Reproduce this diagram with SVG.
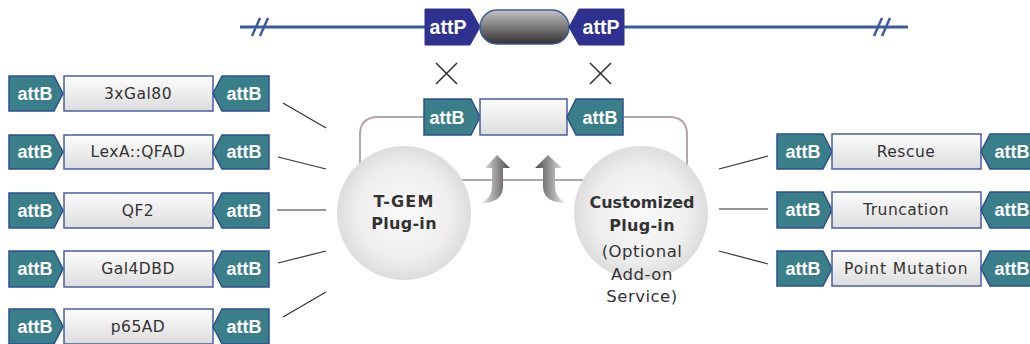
<svg xmlns="http://www.w3.org/2000/svg" width="1030" height="344" viewBox="0 0 1030 344">
<defs>
<linearGradient id="boxg" x1="0" y1="0" x2="0" y2="1"><stop offset="0" stop-color="#fdfdfd"/><stop offset="1" stop-color="#dcdcdc"/></linearGradient>
<linearGradient id="capg" x1="0" y1="0" x2="0" y2="1"><stop offset="0" stop-color="#c4c4c4"/><stop offset="1" stop-color="#333030"/></linearGradient>
<radialGradient id="circg" cx="0.5" cy="0.5" r="0.5"><stop offset="0" stop-color="#fafafa"/><stop offset="0.7" stop-color="#eeeeee"/><stop offset="1" stop-color="#dddddd"/></radialGradient>
<linearGradient id="arrL" x1="0" y1="0" x2="1" y2="0"><stop offset="0" stop-color="#eeeeee"/><stop offset="1" stop-color="#4a4a4a"/></linearGradient>
<linearGradient id="arrR" x1="0" y1="0" x2="1" y2="0"><stop offset="0" stop-color="#4a4a4a"/><stop offset="1" stop-color="#eeeeee"/></linearGradient>
<style>
.attP{fill:#2e3190;stroke:#2e3190;stroke-width:1}
.attB{fill:#3a7e8a;stroke:#2d4f8e;stroke-width:1.5}
.box{fill:url(#boxg);stroke:#4a5da3;stroke-width:1.5}
.at{font-family:"Liberation Sans",Arial,sans-serif;font-weight:bold;font-size:18px;fill:#fff;text-anchor:middle}
.ap{font-family:"Liberation Sans",Arial,sans-serif;font-weight:bold;font-size:19.5px;fill:#fff;text-anchor:middle}
.lbl{font-family:"DejaVu Sans",sans-serif;font-size:15.5px;fill:#333;text-anchor:middle;letter-spacing:0.5px}
.ct{font-family:"DejaVu Sans",sans-serif;font-size:16px;font-weight:bold;fill:#333;text-anchor:middle}
.cn{font-family:"DejaVu Sans",sans-serif;font-size:16.5px;fill:#333;text-anchor:middle;letter-spacing:0.5px}
.loop{fill:none;stroke:#b5a3ad;stroke-width:2}
.conn{stroke:#333;stroke-width:1.2;fill:none}
.circ{fill:url(#circg)}
</style>
</defs>

<g id="chromosome">
<line x1="240" y1="27" x2="908" y2="27" stroke="#3d5a9c" stroke-width="3"/>
<line x1="252" y1="36" x2="260" y2="18" stroke="#3d5a9c" stroke-width="2.5"/>
<line x1="260" y1="36" x2="268" y2="18" stroke="#3d5a9c" stroke-width="2.5"/>
<line x1="874" y1="36" x2="882" y2="18" stroke="#3d5a9c" stroke-width="2.5"/>
<line x1="882" y1="36" x2="890" y2="18" stroke="#3d5a9c" stroke-width="2.5"/>
</g>
<g id="attP-left">
<polygon class="attP" points="425,9 470,9 480,27 470,45 425,45"/>
<text class="ap" x="448" y="34">attP</text>
</g>
<g id="landing-site">
<rect x="480" y="10" width="89" height="34" rx="17" fill="url(#capg)" stroke="#3d5a9c" stroke-width="1.5"/>
</g>
<g id="attP-right">
<polygon class="attP" points="569,27 579,9 624,9 624,45 579,45"/>
<text class="ap" x="601" y="34">attP</text>
</g>

<g id="cross-marks" stroke="#333" stroke-width="1.6">
<line x1="436" y1="63" x2="457" y2="84"/><line x1="457" y1="63" x2="436" y2="84"/>
<line x1="590" y1="63" x2="611" y2="84"/><line x1="611" y1="63" x2="590" y2="84"/>
</g>

<g id="connectors">
<path class="loop" d="M424 117 L378 117 Q360 117 360 135 L360 170"/>
<path class="loop" d="M624 117 L669 117 Q687 117 687 135 L687 170"/>
<line class="loop" x1="450" y1="180" x2="600" y2="180"/>
<line class="conn" x1="283" y1="103" x2="326" y2="128"/>
<line class="conn" x1="278" y1="157" x2="326" y2="169"/>
<line class="conn" x1="277" y1="210" x2="326" y2="210"/>
<line class="conn" x1="278" y1="263" x2="326" y2="251"/>
<line class="conn" x1="283" y1="317" x2="326" y2="292"/>
<line class="conn" x1="719" y1="169" x2="768" y2="156"/>
<line class="conn" x1="719" y1="209" x2="768" y2="209"/>
<line class="conn" x1="719" y1="251" x2="768" y2="264"/>
</g>

<g id="plasmid">
<polygon class="attB" points="424,99 471,99 480,117 471,135 424,135"/>
<text class="at" x="447" y="124">attB</text>
<rect class="box" x="480" y="99" width="87" height="36"/>
<polygon class="attB" points="567,117 576,99 623,99 623,135 576,135"/>
<text class="at" x="600" y="124">attB</text>
</g>

<g id="arrow-left">
<path d="M481 203 Q492 198 492 186 L492 168 L485 168 L497 155 L510 168 L503 168 L503 186 Q503 203 481 203 Z" fill="url(#arrL)"/>
</g>
<g id="arrow-right">
<path d="M566 203 Q555 198 555 186 L555 168 L562 168 L548 155 L535 168 L543 168 L543 186 Q543 203 566 203 Z" fill="url(#arrR)"/>
</g>

<g id="tgem">
<circle class="circ" cx="404" cy="213" r="67"/>
<text class="ct" x="404" y="207" style="letter-spacing:1.2px">T-GEM</text>
<text class="ct" x="404" y="229" style="letter-spacing:0.3px">Plug-in</text>
</g>
<g id="custom">
<circle class="circ" cx="641" cy="213" r="67"/>
<text class="ct" x="642" y="208">Customized</text>
<text class="ct" x="642" y="231" style="letter-spacing:0.3px">Plug-in</text>
<text class="cn" x="642" y="257">(Optional</text>
<text class="cn" x="642" y="280">Add-on</text>
<text class="cn" x="642" y="302">Service)</text>
</g>

<g id="c-3xGal80">
<polygon class="attB" points="9,76 54,76 63,93.5 54,111 9,111"/>
<text class="at" x="35" y="100">attB</text>
<rect class="box" x="64" y="76" width="149" height="35"/>
<text class="lbl" x="138" y="99">3xGal80</text>
<polygon class="attB" points="213,93.5 222,76 269,76 269,111 222,111"/>
<text class="at" x="244" y="100">attB</text>
</g>
<g id="c-LexA">
<polygon class="attB" points="9,135 54,135 63,152 54,169 9,169"/>
<text class="at" x="35" y="158">attB</text>
<rect class="box" x="64" y="135" width="149" height="34"/>
<text class="lbl" x="138" y="157">LexA::QFAD</text>
<polygon class="attB" points="213,152 222,135 269,135 269,169 222,169"/>
<text class="at" x="244" y="158">attB</text>
</g>
<g id="c-QF2">
<polygon class="attB" points="9,193 54,193 63,210.5 54,228 9,228"/>
<text class="at" x="35" y="217">attB</text>
<rect class="box" x="64" y="193" width="149" height="35"/>
<text class="lbl" x="138" y="216">QF2</text>
<polygon class="attB" points="213,210.5 222,193 269,193 269,228 222,228"/>
<text class="at" x="244" y="217">attB</text>
</g>
<g id="c-Gal4DBD">
<polygon class="attB" points="9,251 54,251 63,269 54,287 9,287"/>
<text class="at" x="35" y="275">attB</text>
<rect class="box" x="64" y="251" width="149" height="36"/>
<text class="lbl" x="138" y="274">Gal4DBD</text>
<polygon class="attB" points="213,269 222,251 269,251 269,287 222,287"/>
<text class="at" x="244" y="275">attB</text>
</g>
<g id="c-p65AD">
<polygon class="attB" points="9,309 54,309 63,326.5 54,344 9,344"/>
<text class="at" x="35" y="333">attB</text>
<rect class="box" x="64" y="309" width="149" height="35"/>
<text class="lbl" x="138" y="332">p65AD</text>
<polygon class="attB" points="213,326.5 222,309 269,309 269,344 222,344"/>
<text class="at" x="244" y="333">attB</text>
</g>

<g id="c-Rescue">
<polygon class="attB" points="777,134 823,134 832,151.5 823,169 777,169"/>
<text class="at" x="803" y="158">attB</text>
<rect class="box" x="832" y="134" width="149" height="35"/>
<text class="lbl" x="906" y="157">Rescue</text>
<polygon class="attB" points="981,151.5 990,134 1037,134 1037,169 990,169"/>
<text class="at" x="1012" y="158">attB</text>
</g>
<g id="c-Truncation">
<polygon class="attB" points="777,192 823,192 832,210 823,228 777,228"/>
<text class="at" x="803" y="216">attB</text>
<rect class="box" x="832" y="192" width="149" height="36"/>
<text class="lbl" x="906" y="215">Truncation</text>
<polygon class="attB" points="981,210 990,192 1037,192 1037,228 990,228"/>
<text class="at" x="1012" y="216">attB</text>
</g>
<g id="c-PointMutation">
<polygon class="attB" points="777,251 823,251 832,268.5 823,286 777,286"/>
<text class="at" x="803" y="275">attB</text>
<rect class="box" x="832" y="251" width="149" height="35"/>
<text class="lbl" x="906" y="274" textLength="124" lengthAdjust="spacing">Point Mutation</text>
<polygon class="attB" points="981,268.5 990,251 1037,251 1037,286 990,286"/>
<text class="at" x="1012" y="275">attB</text>
</g>
</svg>
